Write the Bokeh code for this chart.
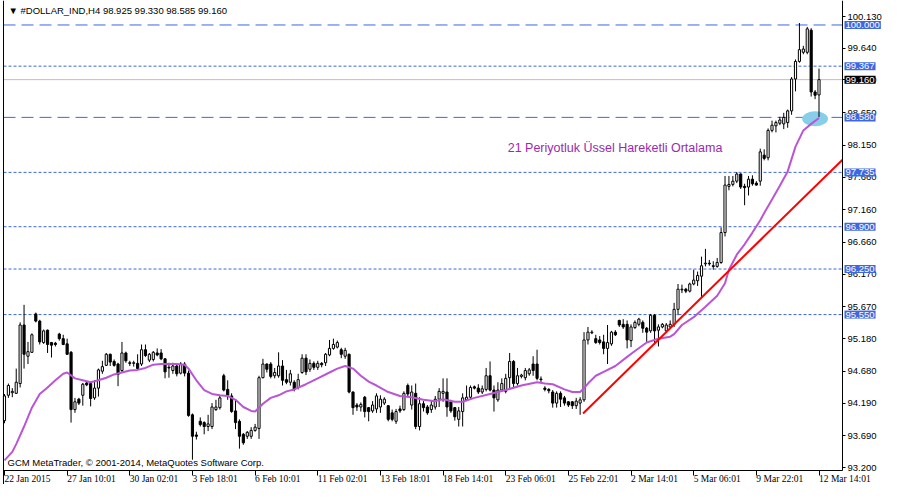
from bokeh.plotting import figure
from bokeh.models import (Range1d, FixedTicker, PrintfTickFormatter, Span, Label,
                          LabelSet, ColumnDataSource, LinearAxis)
from bokeh.embed import file_html
from bokeh.resources import INLINE

# ---------------- data ----------------
opens = [93.92, 94.31, 94.35, 94.34, 94.49, 95.39, 94.91, 94.97, 95.56, 95.45,
         95.12, 95.31, 95.12, 95.11, 95.25, 95.18, 95.10, 94.97, 94.09, 94.25,
         94.31, 94.50, 94.49, 94.27, 94.42, 94.68, 94.77, 94.94, 94.83, 94.79,
         94.69, 94.96, 94.81, 94.80, 94.80, 94.79, 95.01, 94.85, 94.86, 94.96,
         94.96, 94.87, 94.74, 94.69, 94.76, 94.65, 94.79, 94.65, 94.01, 93.70,
         93.91, 93.89, 93.83, 93.83, 94.09, 94.12, 94.61, 94.40, 94.30, 94.07,
         93.91, 93.71, 93.68, 93.68, 93.77, 93.80, 94.58, 94.79, 94.79, 94.61,
         94.61, 94.76, 94.55, 94.51, 94.51, 94.43, 94.66, 94.88, 94.71, 94.80,
         94.74, 94.80, 94.81, 94.93, 95.03, 95.05, 95.01, 94.91, 94.94, 94.36,
         94.16, 94.13, 94.28, 94.12, 94.07, 94.10, 94.13, 94.19, 94.15, 94.04,
         93.91, 94.10, 94.09, 94.46, 94.16, 94.34, 93.83, 94.18, 94.13, 94.09,
         94.13, 94.25, 94.34, 94.36, 94.21, 94.12, 93.94, 94.06, 94.24, 94.28,
         94.44, 94.42, 94.36, 94.40, 94.61, 94.39, 94.24, 94.39, 94.37, 94.58,
         94.83, 94.49, 94.60, 94.58, 94.64, 94.79, 94.79, 94.56, 94.42, 94.40,
         94.36, 94.19, 94.34, 94.27, 94.21, 94.21, 94.15, 94.19, 94.24, 95.16,
         95.27, 95.18, 95.16, 95.13, 95.03, 95.10, 95.28, 95.46, 95.40, 95.40,
         95.15, 95.35, 95.40, 95.43, 95.34, 95.30, 95.54, 95.31, 95.36, 95.30,
         95.36, 95.40, 95.63, 95.93, 95.94, 95.91, 96.02, 96.07, 96.14, 96.33,
         96.34, 96.30, 96.29, 96.35, 96.81, 97.52, 97.55, 97.60, 97.71, 97.52,
         97.51, 97.63, 97.57, 97.60, 98.00, 97.96, 98.38, 98.45, 98.49, 98.48,
         98.50, 98.68, 99.17, 99.44, 99.58, 99.58, 99.92, 98.97, 98.925]
highs = [94.33, 94.49, 94.42, 94.72, 95.43, 95.70, 95.13, 95.26, 95.58, 95.47,
         95.32, 95.32, 95.13, 95.13, 95.27, 95.24, 95.18, 94.99, 94.27, 94.27,
         94.50, 94.52, 94.49, 94.54, 94.72, 94.84, 94.96, 94.95, 94.86, 94.81,
         95.13, 94.98, 94.84, 94.84, 94.94, 95.09, 95.09, 94.96, 94.99, 95.03,
         95.02, 94.88, 94.81, 94.81, 94.79, 94.82, 94.82, 94.69, 94.03, 93.75,
         93.97, 93.91, 94.01, 94.19, 94.24, 94.31, 94.64, 94.54, 94.34, 94.24,
         93.94, 93.73, 93.76, 93.82, 93.87, 94.61, 94.87, 94.80, 94.82, 94.73,
         94.97, 94.85, 94.70, 94.70, 94.54, 94.64, 94.94, 94.94, 94.86, 94.83,
         94.84, 94.82, 94.96, 95.16, 95.18, 95.15, 95.04, 95.04, 94.95, 94.37,
         94.19, 94.20, 94.30, 94.13, 94.22, 94.34, 94.31, 94.28, 94.16, 94.09,
         94.10, 94.15, 94.37, 94.49, 94.46, 94.49, 94.28, 94.22, 94.16, 94.22,
         94.30, 94.42, 94.57, 94.57, 94.24, 94.13, 94.13, 94.34, 94.46, 94.46,
         94.46, 94.48, 94.46, 94.73, 94.83, 94.46, 94.51, 94.57, 94.64, 94.96,
         94.85, 94.73, 94.64, 94.73, 94.73, 94.91, 95.01, 94.60, 94.45, 94.42,
         94.39, 94.37, 94.37, 94.30, 94.22, 94.22, 94.27, 94.28, 95.28, 95.36,
         95.31, 95.24, 95.22, 95.24, 95.39, 95.30, 95.31, 95.47, 95.48, 95.46,
         95.40, 95.46, 95.50, 95.46, 95.36, 95.56, 95.56, 95.40, 95.42, 95.42,
         95.46, 95.73, 96.02, 96.01, 95.96, 96.04, 96.24, 96.21, 96.44, 96.56,
         96.39, 96.37, 96.42, 96.89, 97.68, 97.68, 97.68, 97.74, 97.72, 97.56,
         97.68, 97.69, 97.60, 98.10, 98.09, 98.41, 98.53, 98.53, 98.59, 98.65,
         98.70, 99.20, 99.47, 100.03, 99.68, 99.97, 99.95, 99.00, 99.33]
lows = [93.88, 94.27, 94.28, 94.33, 94.43, 94.72, 94.79, 94.96, 95.43, 95.09,
        95.10, 94.96, 94.89, 95.06, 95.15, 95.08, 94.93, 93.89, 94.04, 94.16,
        94.15, 94.45, 94.14, 94.24, 94.29, 94.64, 94.76, 94.76, 94.75, 94.45,
        94.66, 94.81, 94.76, 94.75, 94.70, 94.76, 94.90, 94.82, 94.83, 94.91,
        94.85, 94.57, 94.58, 94.64, 94.60, 94.63, 94.60, 93.98, 93.32, 93.63,
        93.83, 93.71, 93.76, 93.79, 94.07, 94.09, 94.37, 94.24, 94.04, 93.79,
        93.49, 93.55, 93.64, 93.64, 93.75, 93.64, 94.57, 94.66, 94.57, 94.57,
        94.58, 94.46, 94.48, 94.46, 94.37, 94.40, 94.64, 94.62, 94.67, 94.70,
        94.70, 94.74, 94.76, 94.91, 95.01, 95.03, 94.88, 94.87, 94.34, 94.01,
        94.07, 94.06, 93.97, 93.91, 94.04, 94.04, 94.04, 94.16, 93.91, 93.91,
        93.87, 94.04, 94.07, 94.28, 94.09, 93.79, 93.77, 94.06, 94.01, 94.04,
        94.09, 94.13, 94.21, 93.98, 94.04, 93.92, 93.83, 93.83, 94.22, 94.25,
        94.40, 94.33, 94.33, 94.37, 94.37, 94.06, 94.21, 94.37, 94.34, 94.39,
        94.43, 94.46, 94.57, 94.54, 94.61, 94.61, 94.54, 94.50, 94.37, 94.34,
        94.12, 94.12, 94.13, 94.15, 94.13, 94.10, 94.10, 94.01, 94.21, 95.09,
        95.25, 95.10, 95.09, 94.94, 94.79, 95.07, 95.22, 95.36, 95.33, 95.03,
        95.05, 95.33, 95.37, 95.27, 95.13, 95.27, 95.09, 95.06, 95.34, 95.27,
        95.33, 95.36, 95.54, 95.88, 95.88, 95.89, 96.00, 95.99, 95.81, 96.29,
        96.30, 96.24, 96.27, 96.33, 96.75, 97.46, 97.52, 97.57, 97.48, 97.23,
        97.38, 97.53, 97.53, 97.53, 97.92, 97.92, 98.35, 98.35, 98.46, 98.40,
        98.42, 98.62, 98.98, 99.42, 99.55, 99.55, 98.90, 98.86, 98.585]
closes = [94.30, 94.46, 94.37, 94.51, 95.39, 94.94, 94.98, 95.24, 95.45, 95.13,
          95.30, 95.09, 95.08, 95.09, 95.18, 95.09, 94.94, 94.09, 94.21, 94.19,
          94.48, 94.47, 94.26, 94.42, 94.70, 94.75, 94.94, 94.82, 94.77, 94.63,
          94.96, 94.84, 94.80, 94.81, 94.72, 95.01, 94.92, 94.94, 94.97, 94.93,
          94.87, 94.67, 94.73, 94.76, 94.64, 94.79, 94.65, 94.00, 93.68, 93.68,
          93.86, 93.83, 93.87, 94.13, 94.13, 94.27, 94.39, 94.31, 94.06, 93.89,
          93.68, 93.58, 93.74, 93.77, 93.82, 94.58, 94.79, 94.71, 94.60, 94.66,
          94.76, 94.54, 94.51, 94.64, 94.40, 94.55, 94.88, 94.67, 94.80, 94.74,
          94.80, 94.78, 94.94, 95.03, 95.09, 95.12, 94.94, 95.00, 94.36, 94.12,
          94.13, 94.17, 94.06, 94.06, 94.16, 94.30, 94.25, 94.25, 93.94, 93.94,
          94.06, 94.07, 94.34, 94.33, 94.36, 93.83, 94.18, 94.12, 94.04, 94.16,
          94.25, 94.37, 94.37, 94.13, 94.07, 93.98, 94.07, 94.27, 94.28, 94.43,
          94.42, 94.36, 94.41, 94.61, 94.39, 94.27, 94.39, 94.49, 94.57, 94.83,
          94.49, 94.61, 94.62, 94.69, 94.70, 94.69, 94.57, 94.55, 94.40, 94.38,
          94.19, 94.34, 94.25, 94.19, 94.16, 94.15, 94.22, 94.24, 95.16, 95.28,
          95.28, 95.12, 95.12, 95.03, 95.12, 95.28, 95.24, 95.39, 95.36, 95.16,
          95.36, 95.43, 95.48, 95.34, 95.28, 95.54, 95.30, 95.36, 95.40, 95.39,
          95.40, 95.63, 95.94, 95.94, 95.91, 96.02, 96.08, 96.15, 96.30, 96.34,
          96.33, 96.29, 96.35, 96.81, 97.54, 97.55, 97.60, 97.71, 97.51, 97.50,
          97.63, 97.56, 97.54, 98.05, 97.95, 98.38, 98.46, 98.50, 98.54, 98.58,
          98.68, 99.17, 99.44, 99.62, 99.63, 99.94, 98.97, 98.92, 99.16]

# 21-period EMA as drawn on the chart (bar index, value)
ema_bars = [0, 2, 3, 5, 7, 9, 11, 13, 15, 16, 18, 20, 22, 24, 26, 28, 30, 32, 34, 36,
            38, 40, 42, 44, 46, 47, 49, 51, 53, 55, 57, 59, 61, 63, 64, 66, 68, 70, 72,
            74, 77, 80, 83, 85, 87, 89, 91, 93, 95, 98, 101, 104, 107, 110, 112, 115,
            117, 120, 124, 128, 132, 136, 138, 140, 143, 145, 147, 148, 149, 151, 153,
            156, 159, 161, 164, 167, 170, 171, 173, 176, 179, 182, 184, 185, 187, 189,
            191, 193, 194, 196, 198, 200, 202, 204, 206, 208]
ema_vals = [93.31, 93.44, 93.56, 93.83, 94.12, 94.33, 94.43, 94.54, 94.64, 94.66,
            94.57, 94.54, 94.51, 94.54, 94.58, 94.63, 94.66, 94.69, 94.70, 94.73,
            94.78, 94.79, 94.79, 94.79, 94.78, 94.72, 94.54, 94.39, 94.33, 94.31,
            94.30, 94.24, 94.13, 94.07, 94.06, 94.18, 94.27, 94.31, 94.37, 94.40,
            94.48, 94.57, 94.66, 94.72, 94.76, 94.72, 94.61, 94.52, 94.46, 94.36,
            94.30, 94.28, 94.24, 94.22, 94.25, 94.21, 94.21, 94.27, 94.33, 94.39,
            94.46, 94.51, 94.49, 94.48, 94.40, 94.36, 94.36, 94.42, 94.49, 94.61,
            94.67, 94.76, 94.90, 94.99, 95.12, 95.18, 95.21, 95.25, 95.39, 95.51,
            95.67, 95.84, 96.03, 96.24, 96.47, 96.63, 96.81, 97.00, 97.11, 97.32,
            97.53, 97.75, 98.13, 98.38, 98.48, 98.57]

# trend line anchors (bar, price)
trend_bars = [147.75, 214.0]
trend_vals = [94.03, 97.93]

# horizontal levels
long_dash_levels = [100.000, 98.580]
dot_levels = [99.367, 97.735, 96.900, 96.250, 95.550]
bid_level = 99.160

# axes
price_ticks = [93.200, 93.690, 94.190, 94.680, 95.180, 95.670, 96.170, 96.660,
               97.160, 97.660, 98.150, 98.650, 99.160, 99.640, 100.130]
time_tick_bars = [0, 16, 32, 48, 64, 80, 96, 112, 128, 144, 160, 176, 192, 208]
time_tick_labels = ["22 Jan 2015", "27 Jan 10:01", "30 Jan 02:01", "3 Feb 18:01",
                    "6 Feb 10:01", "11 Feb 02:01", "13 Feb 18:01", "18 Feb 14:01",
                    "23 Feb 06:01", "25 Feb 22:01", "2 Mar 14:01", "5 Mar 06:01",
                    "9 Mar 22:01", "12 Mar 14:01"]

title_text = "\u25BC #DOLLAR_IND,H4  98.925 99.330 98.585 99.160"
copyright_text = "GCM MetaTrader, \u00A9 2001-2014, MetaQuotes Software Corp."
ema_note = "21 Periyotluk \u00DCssel Hareketli Ortalama"

# ---------------- layout geometry ----------------
W, H = 884, 484
BLUE = "#3F67E0"
FONT = "Liberation Sans"
CH_L, CH_R = -0.25, 214.0          # chart area in bar units
CH_LPX, CH_RPX = 3, 842            # chart area in canvas pixels
PXB = (CH_RPX - CH_LPX) / (CH_R - CH_L)
CH_T_PX, CH_B_PX = 0, 470
PY_TOP = 100.376                   # price at canvas top
PXY = 65.08                        # pixels per price unit
CH_B = PY_TOP - (CH_B_PX - CH_T_PX) / PXY

x_lo = CH_L - CH_LPX / PXB
x_hi = CH_R + (W - CH_RPX) / PXB
y_lo = PY_TOP - H / PXY

p = figure(width=W, height=H, x_range=Range1d(x_lo, x_hi), y_range=Range1d(y_lo, PY_TOP),
           output_backend="svg", toolbar_location=None, x_axis_location=None,
           y_axis_location=None, min_border=0)
p.background_fill_color = "white"
p.border_fill_color = "white"
p.outline_line_color = None
p.xgrid.visible = False
p.ygrid.visible = False

# price axis on the right edge of the chart area
yax = LinearAxis(fixed_location=CH_R, bounds=(CH_B, PY_TOP),
                 ticker=FixedTicker(ticks=price_ticks),
                 formatter=PrintfTickFormatter(format="%.3f"))
yax.major_label_text_font = FONT
yax.major_label_text_font_size = "9.5px"
yax.major_label_text_color = "black"
yax.major_tick_in = 0
yax.major_tick_out = 3
yax.major_label_standoff = 2
yax.minor_tick_line_color = None
yax.axis_line_color = "black"
p.add_layout(yax, "right")

# time axis at the bottom of the chart area (labels drawn left-aligned below)
xax = LinearAxis(fixed_location=CH_B, bounds=(CH_L, CH_R),
                 ticker=FixedTicker(ticks=time_tick_bars))
xax.major_label_text_font_size = "1px"
xax.major_label_text_alpha = 0
xax.major_tick_in = 0
xax.major_tick_out = 5
xax.minor_tick_line_color = None
xax.axis_line_color = "black"
p.add_layout(xax, "below")

# left border of the chart
p.add_layout(Span(location=CH_L, dimension="height", line_color="black", line_width=1))

# level lines (chart width only)
nl = len(long_dash_levels)
p.segment(x0=[CH_L] * nl, y0=long_dash_levels, x1=[CH_R] * nl, y1=long_dash_levels,
          line_color=BLUE, line_width=1, line_dash="12 6", level="underlay")
nd = len(dot_levels)
p.segment(x0=[CH_L] * nd, y0=dot_levels, x1=[CH_R] * nd, y1=dot_levels,
          line_color=BLUE, line_width=1, line_dash="3 2", level="underlay")
p.segment(x0=[CH_L], y0=[bid_level], x1=[CH_R], y1=[bid_level],
          line_color="#C0C0C0", line_width=1, level="underlay")

# highlight ellipse at the EMA touch
p.ellipse(x=[207], y=[98.56], width=6.6, height=0.23, fill_color="#87CEEB",
          line_color=None)

# candles
n = len(opens)
idx = list(range(n))
src = ColumnDataSource(dict(
    x=idx, high=highs, low=lows,
    top=[max(o, c) for o, c in zip(opens, closes)],
    bottom=[min(o, c) for o, c in zip(opens, closes)],
    fill=["white" if c >= o else "black" for o, c in zip(opens, closes)],
))
p.segment(x0="x", y0="high", x1="x", y1="low", source=src, line_color="black",
          line_width=1)
p.vbar(x="x", top="top", bottom="bottom", width=0.55, fill_color="fill",
       line_color="black", line_width=1, source=src)

# EMA and trend line
p.line(ema_bars, ema_vals, line_color="#BA55D3", line_width=2)
p.line(trend_bars, trend_vals, line_color="#FF0000", line_width=2)

# texts
p.add_layout(Label(x=CH_L + 5 / PXB, y=PY_TOP - 10 / PXY, text=title_text,
                   text_font=FONT, text_font_size="9.5px", text_color="black",
                   text_baseline="middle", text_align="left"))
p.add_layout(Label(x=CH_L + 4 / PXB, y=CH_B + 8 / PXY, text=copyright_text,
                   text_font=FONT, text_font_size="9.5px", text_color="black",
                   text_baseline="middle", text_align="left"))
p.add_layout(Label(x=128.5, y=98.11, text=ema_note, text_font=FONT,
                   text_font_size="12.5px", text_color="#9A2AAE",
                   text_baseline="middle", text_align="left"))

# left-aligned time labels under the axis
tsrc = ColumnDataSource(dict(x=time_tick_bars,
                             y=[CH_B - 8 / PXY] * len(time_tick_bars),
                             text=time_tick_labels))
p.add_layout(LabelSet(x="x", y="y", text="text", source=tsrc,
                      text_font=FONT, text_font_size="9.5px", text_color="black",
                      text_baseline="middle", text_align="left"))

# price flags on the price axis
for lv in long_dash_levels + dot_levels:
    p.add_layout(Label(x=CH_R + 2 / PXB, y=lv, text="%.3f" % lv, text_font=FONT,
                       text_font_size="9.5px", text_color="white",
                       background_fill_color=BLUE, text_baseline="middle",
                       text_align="left", padding=1))
p.add_layout(Label(x=CH_R + 2 / PXB, y=bid_level, text="%.3f" % bid_level,
                   text_font=FONT, text_font_size="9.5px", text_color="white",
                   background_fill_color="black", text_baseline="middle",
                   text_align="left", padding=1))

open("out.html", "w").write(file_html(p, INLINE))
